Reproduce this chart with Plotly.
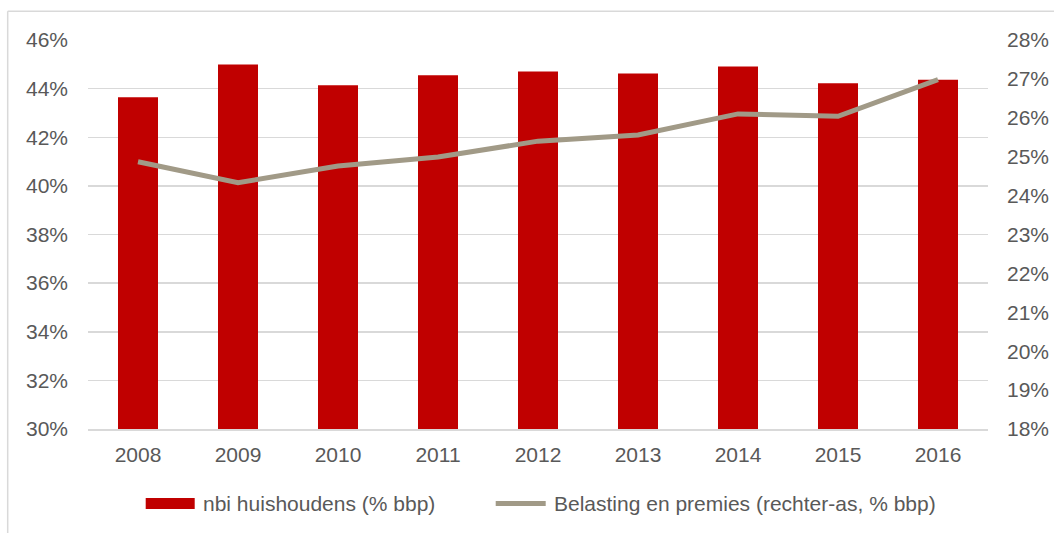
import plotly.graph_objects as go

years = ["2008", "2009", "2010", "2011", "2012", "2013", "2014", "2015", "2016"]
nbi_huishoudens = [43.65, 44.99, 44.14, 44.55, 44.70, 44.62, 44.91, 44.22, 44.37]
belasting_premies = [24.87, 24.33, 24.76, 24.99, 25.40, 25.56, 26.10, 26.04, 26.98]
bar_name = "nbi huishoudens (% bbp)"
line_name = "Belasting en premies (rechter-as, % bbp)"

W, H = 1054, 533
L, R, T, B = 88.3, 988.3, 40.3, 429.0
FONT = "Liberation Sans, Arial, sans-serif"
TXT = "#595959"
GRID = "#d9d9d9"
RED = "#c00000"
TAUPE = "#a19a87"


def px(x):
    return (x - L) / (R - L)


def py(y):
    return (B - y) / (B - T)


fig = go.Figure()
fig.add_trace(go.Bar(x=years, y=nbi_huishoudens, name=bar_name, marker=dict(color=RED, line=dict(width=0)),
                     yaxis="y", showlegend=False))
fig.add_trace(go.Scatter(x=years, y=belasting_premies, name=line_name, mode="lines",
                         line=dict(color=TAUPE, width=5), yaxis="y2", showlegend=False))

shapes = [
    # outer frame (top and left edges visible)
    dict(type="line", xref="paper", yref="paper", x0=px(8), x1=px(1060), y0=py(11.5), y1=py(11.5),
         line=dict(color=GRID, width=1.5), layer="below"),
    dict(type="line", xref="paper", yref="paper", x0=px(8), x1=px(8), y0=py(11.5), y1=py(540),
         line=dict(color=GRID, width=1.5), layer="below"),
    # legend swatches
    dict(type="rect", xref="paper", yref="paper", x0=px(146), x1=px(195), y0=py(509), y1=py(498),
         fillcolor=RED, line=dict(width=0)),
    dict(type="line", xref="paper", yref="paper", x0=px(496), x1=px(546), y0=py(503.5), y1=py(503.5),
         line=dict(color=TAUPE, width=5)),
]
annotations = [
    dict(xref="paper", yref="paper", x=px(201), y=py(503.5), text=bar_name, showarrow=False,
         xanchor="left", yanchor="middle", font=dict(family=FONT, size=21, color=TXT)),
    dict(xref="paper", yref="paper", x=px(552), y=py(503.5), text=line_name, showarrow=False,
         xanchor="left", yanchor="middle", font=dict(family=FONT, size=21, color=TXT)),
]

fig.update_layout(
    width=W, height=H,
    margin=dict(l=L, r=W - R, t=T, b=H - B, pad=0, autoexpand=False),
    paper_bgcolor="white", plot_bgcolor="white",
    font=dict(family=FONT, size=21, color=TXT),
    bargap=0.6,
    showlegend=False,
    hovermode=False,
    shapes=shapes,
    annotations=annotations,
    xaxis=dict(type="category", showgrid=False, showline=True, linecolor=GRID, linewidth=1.5,
               ticks="", ticklabelstandoff=6, automargin=False,
               tickfont=dict(family=FONT, size=21, color=TXT)),
    yaxis=dict(range=[30, 46], dtick=2, ticksuffix="%", showgrid=True, gridcolor=GRID, gridwidth=1.5,
               zeroline=False, showline=False, ticks="", ticklabelstandoff=19, automargin=False,
               tickfont=dict(family=FONT, size=21, color=TXT)),
    yaxis2=dict(range=[18, 28], dtick=1, ticksuffix="%", overlaying="y", side="right", showgrid=False,
                zeroline=False, showline=False, ticks="", ticklabelstandoff=18, automargin=False,
                tickfont=dict(family=FONT, size=21, color=TXT)),
)

fig.write_html("out.html", config={"displayModeBar": False, "staticPlot": True},
               post_script="document.body.style.margin='0';document.body.style.overflow='hidden';")
